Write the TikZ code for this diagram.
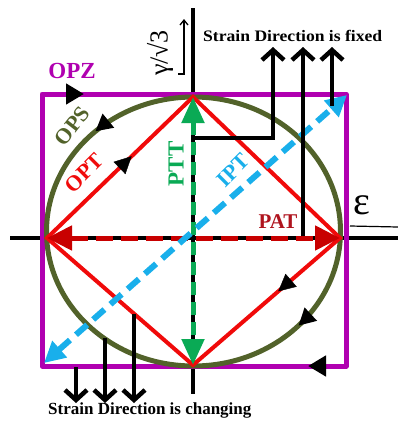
\documentclass[tikz,border=0pt]{standalone}
\usepackage{fontspec}
\setmainfont{Liberation Serif}
\usetikzlibrary{arrows.meta,decorations.markings}
\definecolor{mag}{RGB}{176,0,176}
\definecolor{olv}{RGB}{82,98,42}
\definecolor{rd}{RGB}{240,10,10}
\definecolor{blu}{RGB}{25,175,235}
\definecolor{grn}{RGB}{10,170,85}
\definecolor{drd}{RGB}{200,0,0}
\definecolor{drdtxt}{RGB}{175,20,30}
\tikzset{
  axisline/.style={line width=3.5pt, black},
  boxline/.style={line width=5pt, mag, line join=round},
  ellline/.style={line width=5pt, olv},
  triline/.style={line width=4pt, rd, line join=miter},
  blkarrow/.style={line width=4.5pt, black, -{Straight Barb[length=10pt,width=22pt]}},
  midtip/.style={postaction={decorate,decoration={markings,
      mark=at position #1 with {\arrow{Triangle[length=17pt,width=17pt,color=black]}}}}},
  midtiprev/.style={postaction={decorate,decoration={markings,
      mark=at position #1 with {\arrowreversed{Triangle[length=17pt,width=17pt,color=black]}}}}},
  lbl/.style={inner sep=0pt, font=\bfseries\fontsize{22}{22}\selectfont},
}
\begin{document}
\begin{tikzpicture}[x=1pt,y=-1pt]
\useasboundingbox (0,0) rectangle (398,421);
% coordinates
\coordinate (T) at (193,97);
\coordinate (L) at (47,238);
\coordinate (R) at (340,238);
\coordinate (B) at (193,365);
\coordinate (O) at (193.5,231.5);
\coordinate (NW) at (42,94);
\coordinate (NE) at (346,94);
\coordinate (SE) at (346,366);
\coordinate (SW) at (42,366);
\coordinate (vtop) at (193,8);
\coordinate (vbot) at (193,394);
\coordinate (hl) at (10,238);
\coordinate (hr) at (398,238);
% axes
\draw[axisline] (vtop) -- (vbot);
\draw[axisline] (hl) -- (hr);
% rectangle OPZ
\draw[boxline,
  postaction={decorate,decoration={markings,
    mark=at position 42pt with {\arrow{Triangle[length=18pt,width=20pt,color=black]}},
    mark=at position 614pt with {\arrow{Triangle[length=18pt,width=20pt,color=black]}}}}]
  (NW) -- (NE) -- (SE) -- (SW) -- cycle;
% ellipse OPS
\draw[ellline, midtip=0.12, midtiprev=0.63] (O) ellipse [x radius=147, y radius=134.5];
% diamond OPT
\draw[triline] (L) -- (T) -- (R) -- (B) -- cycle;
\path[midtip=0.58] (L) -- (T);
\path[midtip=0.42] (R) -- (B);
% PAT dashed
\draw[drd, line width=5pt, dash pattern=on 17pt off 8pt,
  {Triangle[length=25pt,width=24pt]}-{Triangle[length=25pt,width=24pt]}] (L) -- (R);
% PTT dashed
\draw[grn, line width=5pt, dash pattern=on 13pt off 7pt,
  {Triangle[length=26pt,width=22pt]}-{Triangle[length=26pt,width=22pt]}] (T) -- (B);
% IPT dashed
\coordinate (ipa) at (44,363);
\coordinate (ipb) at (347,95);
\draw[blu, line width=6pt, dash pattern=on 15pt off 8pt,
  {Triangle[length=21pt,width=21pt]}-{Triangle[length=21pt,width=21pt]}] (ipa) -- (ipb);
% strain direction fixed arrows
\coordinate (f1s) at (191,138);
\coordinate (f1e) at (273,47);
\coordinate (f2s) at (303,236);
\coordinate (f2e) at (303,47);
\coordinate (f3s) at (332,106);
\coordinate (f3e) at (332,47);
\draw[blkarrow] (f1s) -| (f1e);
\draw[blkarrow] (f2s) -- (f2e);
\draw[blkarrow] (f3s) -- (f3e);
% strain direction changing arrows
\coordinate (c1s) at (76,367);
\coordinate (c1e) at (76,403);
\coordinate (c2s) at (105,338);
\coordinate (c2e) at (105,403);
\coordinate (c3s) at (134,314);
\coordinate (c3e) at (134,403);
\draw[blkarrow] (c1s) -- (c1e);
\draw[blkarrow] (c2s) -- (c2e);
\draw[blkarrow] (c3s) -- (c3e);
% small axis arrows and labels
\coordinate (ga) at (178,74);
\coordinate (gb) at (184,74);
\coordinate (gc) at (184,19);
\draw[line width=1.3pt, -{Straight Barb[length=5pt,width=8pt]}] (ga) -- (gb) -- (gc);
\node[rotate=90, inner sep=0pt, font=\fontsize{26}{26}\selectfont] (gam) at (160,53) {γ/√3};
\node[inner sep=0pt, font=\fontsize{40}{40}\selectfont] (eps) at (362,205) {ε};
\coordinate (ua) at (350,226);
\coordinate (ub) at (398,227);
\draw[line width=1.2pt] (ua) -- (ub);
% labels
\node[lbl, mag, font=\bfseries\fontsize{23}{23}\selectfont] (opz) at (72,71) {OPZ};
\node[lbl, olv, rotate=52] (ops) at (72,126) {OPS};
\node[lbl, rd, rotate=45] (opt) at (84,173) {OPT};
\node[lbl, grn, rotate=90, font=\bfseries\fontsize{23}{23}\selectfont] (ptt) at (176,164) {PTT};
\node[lbl, blu, rotate=45] (ipt) at (233,170) {IPT};
\node[lbl, drdtxt, font=\bfseries\fontsize{21}{21}\selectfont] (pat) at (278,222) {PAT};
\node[anchor=base west, inner sep=0pt, font=\bfseries\fontsize{16}{16}\selectfont] (fixed) at (203,41) {\scalebox{1.1}[1]{Strain Direction is fixed}};
\node[anchor=base west, inner sep=0pt, font=\bfseries\fontsize{17}{17}\selectfont] (chg) at (48,414) {Strain Direction is changing};
\end{tikzpicture}
\end{document}
